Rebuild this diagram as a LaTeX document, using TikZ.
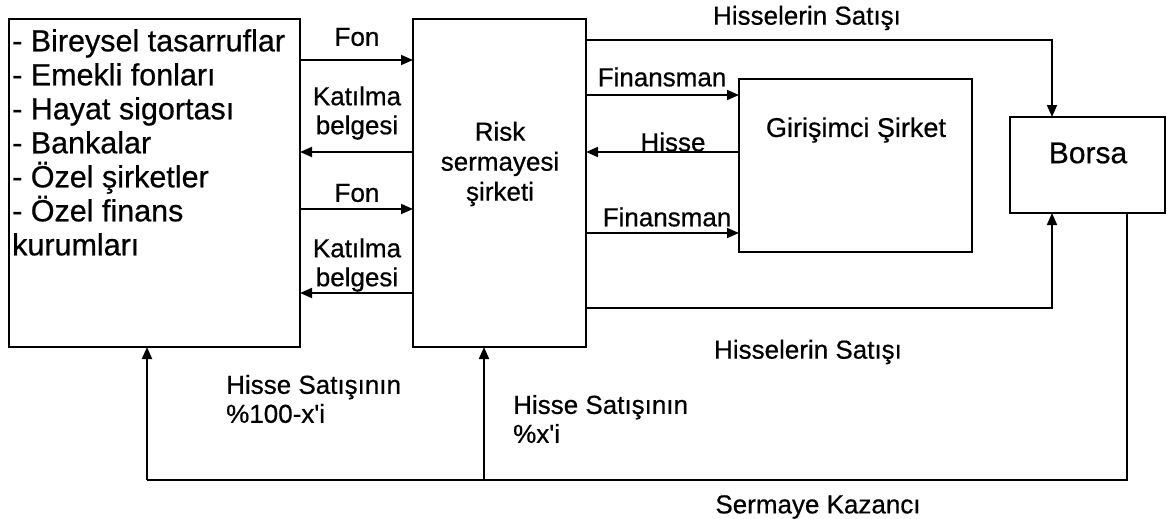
\documentclass[tikz,border=0pt]{standalone}
\usepackage{fontspec}
\setmainfont{Liberation Sans}[Ligatures=TeXOff,FakeBold=0.6]
\usetikzlibrary{arrows.meta}
\begin{document}
\begin{tikzpicture}[x=1pt,y=-1pt,
  box/.style={draw, line width=1.8pt, inner sep=0pt, outer sep=0pt, anchor=north west},
  conn/.style={line width=1.8pt},
  arr/.style={conn, -{Triangle[length=12pt,width=10pt]}},
  lbl/.style={inner sep=0pt, font=\fontsize{26}{29}\selectfont, align=center},
  lbll/.style={lbl, align=left, anchor=west},
  listtxt/.style={inner sep=0pt, anchor=north west, align=left, font=\fontsize{30.5}{34}\selectfont}]
\useasboundingbox (0,0) rectangle (1176,519);
% boxes
\node[box, minimum width=291pt, minimum height=328pt] (src) at (9,19) {};
\node[box, minimum width=173pt, minimum height=328pt] (risk) at (413,19) {};
\node[box, minimum width=233pt, minimum height=173pt] (giri) at (739,79) {};
\node[box, minimum width=155pt, minimum height=96pt] (borsa) at (1010,117) {};
% box texts
\node[listtxt] (srctext) at (12,29) {- Bireysel tasarruflar\\- Emekli fonları\\- Hayat sigortası\\- Bankalar\\- Özel şirketler\\- Özel finans\\kurumları};
\node[lbl, font=\fontsize{26}{30}\selectfont] (risktext) at (500,164) {Risk\\sermayesi\\şirketi};
\node[lbl, font=\fontsize{27}{30}\selectfont] (giritext) at (856,130) {Girişimci Şirket};
\node[lbl, font=\fontsize{30}{33}\selectfont] (borsatext) at (1088,153) {Borsa};
% coordinates
\coordinate (y60) at (0,60);
\coordinate (y152) at (0,152);
\coordinate (y209) at (0,209);
\coordinate (y293) at (0,293);
\coordinate (y95) at (0,95);
\coordinate (y233) at (0,233);
\coordinate (tl) at (1052,40);
\coordinate (bl) at (1052,308);
\coordinate (skr) at (1127,480);
\coordinate (skl) at (147,480);
\coordinate (skm) at (484,480);
% left <-> risk
\draw[arr] (src.east |- y60) -- (risk.west |- y60);
\draw[arr] (risk.west |- y152) -- (src.east |- y152);
\draw[arr] (src.east |- y209) -- (risk.west |- y209);
\draw[arr] (risk.west |- y293) -- (src.east |- y293);
\node[lbl] (fon1) at (357,37) {Fon};
\node[lbl] (kat1) at (357,113) {Katılma\\belgesi};
\node[lbl] (fon2) at (357,193) {Fon};
\node[lbl] (kat2) at (357,265) {Katılma\\belgesi};
% risk <-> girisimci
\draw[arr] (risk.east |- y95) -- (giri.west |- y95);
\draw[arr] (giri.west |- y152) -- (risk.east |- y152);
\draw[arr] (risk.east |- y233) -- (giri.west |- y233);
\node[lbl] (fin1) at (662,77) {Finansman};
\node[lbl] (hisse) at (673,142) {Hisse};
\node[lbl] (fin2) at (667,217) {Finansman};
% risk -> borsa
\draw[arr] (risk.east |- tl) -- (tl) -- (borsa.north -| tl);
\draw[arr] (risk.east |- bl) -- (bl) -- (borsa.south -| bl);
\node[lbl] (hs1) at (807,18) {Hisselerin Satışı};
\node[lbl] (hs2) at (808,352) {Hisselerin Satışı};
% capital gain
\draw[conn] (borsa.south -| skr) -- (skr) -- (skl);
\draw[arr] (skl) -- (src.south -| skl);
\draw[arr] (skm) -- (risk.south -| skm);
\node[lbll] (hsat1) at (226,399) {Hisse Satışının\\\%100-x'i};
\node[lbll] (hsat2) at (513,419) {Hisse Satışının\\\%x'i};
\node[lbl] (sk) at (818,507) {Sermaye Kazancı};
\end{tikzpicture}
\end{document}
